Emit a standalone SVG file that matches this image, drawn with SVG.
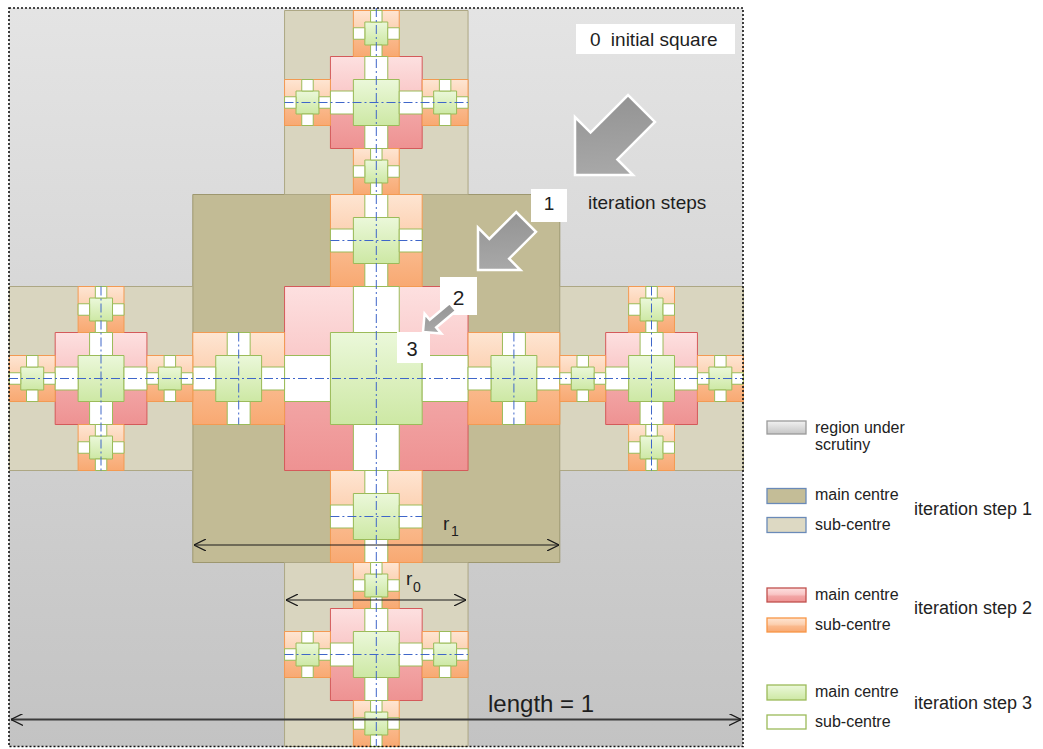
<svg xmlns="http://www.w3.org/2000/svg" width="1043" height="749" viewBox="0 0 1043 749">
<defs>
<style>
.k1,.k2,.p,.o,.g,.w{stroke-width:1;vector-effect:non-scaling-stroke}
.k1{fill:#c2bb95;stroke:#9d976f}
.k2{fill:#d9d5bf;stroke:#ada784}
.p{fill:url(#gp);stroke:#d45a5a}
.o{fill:url(#go);stroke:#f39a52}
.g{fill:url(#gg);stroke:#9bbb59}
.w{fill:#ffffff;stroke:#9bbb59}
.ax{fill:none;stroke:#3f66c9;stroke-width:1;stroke-dasharray:9 3 2 3}
.dim{fill:none;stroke:#1a1a1a;stroke-width:1.2}
.blk{fill:url(#ga);stroke:#ffffff;stroke-width:2.5;stroke-linejoin:miter}
.t{font-family:"Liberation Sans",Arial,sans-serif;fill:#1e1e1e}
.lg{font-family:"Liberation Sans",Arial,sans-serif;font-size:16px;fill:#222}
.li{font-family:"Liberation Sans",Arial,sans-serif;font-size:18px;fill:#222}
.sw{stroke-width:1.3}
</style>
<linearGradient id="gbg" x1="0" y1="0" x2="0" y2="1"><stop offset="0" stop-color="#e4e4e4"/><stop offset="1" stop-color="#c3c3c3"/></linearGradient>
<linearGradient id="gp" x1="0" y1="0" x2="0" y2="1"><stop offset="0" stop-color="#fde0e0"/><stop offset="0.45" stop-color="#f9c6c6"/><stop offset="0.6" stop-color="#f2a5a5"/><stop offset="1" stop-color="#ee9292"/></linearGradient>
<linearGradient id="go" x1="0" y1="0" x2="0" y2="1"><stop offset="0" stop-color="#fee5d2"/><stop offset="0.45" stop-color="#fcd0b0"/><stop offset="0.6" stop-color="#fab98c"/><stop offset="1" stop-color="#f8a972"/></linearGradient>
<linearGradient id="gg" x1="0" y1="0" x2="0" y2="1"><stop offset="0" stop-color="#ebf8da"/><stop offset="1" stop-color="#cde8a4"/></linearGradient>
<linearGradient id="gs" x1="0" y1="0" x2="0" y2="1"><stop offset="0" stop-color="#f2f2f2"/><stop offset="1" stop-color="#c4c4c4"/></linearGradient>
<linearGradient id="ga" x1="1" y1="0" x2="0" y2="1"><stop offset="0" stop-color="#b0b0b0"/><stop offset="1" stop-color="#8f8f8f"/></linearGradient>
<marker id="ch" viewBox="0 0 12 12" refX="12" refY="6" markerWidth="12" markerHeight="12" markerUnits="userSpaceOnUse" orient="auto-start-reverse">
<path d="M0,0 L12,6 L0,12" fill="none" stroke="#1a1a1a" stroke-width="1.2"/>
</marker>
<g id="s3">
<rect class="g" x="-0.25" y="-0.25" width="0.5" height="0.5"/>
<rect class="w" x="-0.125" y="-0.5" width="0.25" height="0.25"/>
<rect class="w" x="-0.125" y="0.25" width="0.25" height="0.25"/>
<rect class="w" x="-0.5" y="-0.125" width="0.25" height="0.25"/>
<rect class="w" x="0.25" y="-0.125" width="0.25" height="0.25"/>
</g>
<g id="s2">
<rect class="p" x="-0.25" y="-0.25" width="0.5" height="0.5"/>
<rect class="o" x="-0.125" y="-0.5" width="0.25" height="0.25"/>
<rect class="o" x="-0.125" y="0.25" width="0.25" height="0.25"/>
<rect class="o" x="-0.5" y="-0.125" width="0.25" height="0.25"/>
<rect class="o" x="0.25" y="-0.125" width="0.25" height="0.25"/>
<use href="#s3" transform="scale(0.5)"/>
<use href="#s3" transform="translate(0,-0.375) scale(0.25)"/>
<use href="#s3" transform="translate(0,0.375) scale(0.25)"/>
<use href="#s3" transform="translate(-0.375,0) scale(0.25)"/>
<use href="#s3" transform="translate(0.375,0) scale(0.25)"/>
</g>
<g id="s1">
<rect class="k1" x="-0.25" y="-0.25" width="0.5" height="0.5"/>
<rect class="k2" x="-0.125" y="-0.5" width="0.25" height="0.25"/>
<rect class="k2" x="-0.125" y="0.25" width="0.25" height="0.25"/>
<rect class="k2" x="-0.5" y="-0.125" width="0.25" height="0.25"/>
<rect class="k2" x="0.25" y="-0.125" width="0.25" height="0.25"/>
<use href="#s2" transform="scale(0.5)"/>
<use href="#s2" transform="translate(0,-0.375) scale(0.25)"/>
<use href="#s2" transform="translate(0,0.375) scale(0.25)"/>
<use href="#s2" transform="translate(-0.375,0) scale(0.25)"/>
<use href="#s2" transform="translate(0.375,0) scale(0.25)"/>
</g>
</defs>
<rect width="1043" height="749" fill="#ffffff"/>
<g id="initial-square">
<rect x="9" y="8" width="734" height="738.5" fill="url(#gbg)"/>
</g>
<g id="fractal">
<use href="#s1" transform="translate(376.3,378.5) scale(734,736)"/>
</g>
<g id="centre-lines">
<line class="ax" x1="9" y1="378.5" x2="743" y2="378.5"/>
<line class="ax" x1="376.3" y1="8" x2="376.3" y2="746"/>
<line class="ax" x1="330.4" y1="240.5" x2="422.2" y2="240.5"/>
<line class="ax" x1="330.4" y1="516.5" x2="422.2" y2="516.5"/>
<line class="ax" x1="238.7" y1="332.5" x2="238.7" y2="424.5"/>
<line class="ax" x1="513.9" y1="332.5" x2="513.9" y2="424.5"/>
<line class="ax" x1="284.5" y1="102.5" x2="468" y2="102.5"/>
<line class="ax" x1="284.5" y1="654.5" x2="468" y2="654.5"/>
<line class="ax" x1="101" y1="286.5" x2="101" y2="470.5"/>
<line class="ax" x1="651.5" y1="286.5" x2="651.5" y2="470.5"/>
</g>
<rect x="9" y="8" width="734" height="738.5" fill="none" stroke="#111" stroke-width="1.6" stroke-dasharray="2 2"/>
<g id="dimensions">
<line class="dim" x1="194" y1="545" x2="559" y2="545" marker-start="url(#ch)" marker-end="url(#ch)"/>
<text class="t" x="443" y="530" font-size="19">r</text><text class="t" x="451" y="536" font-size="14">1</text>
<line class="dim" x1="286" y1="600" x2="466" y2="600" marker-start="url(#ch)" marker-end="url(#ch)"/>
<text class="t" x="406" y="585" font-size="19">r</text><text class="t" x="413" y="592" font-size="14">0</text>
<line x1="11" y1="719.5" x2="741" y2="719.5" stroke="#3a3a3a" stroke-width="1.8" marker-start="url(#ch)" marker-end="url(#ch)"/>
<text class="t" x="488" y="712" font-size="24">length = 1</text>
</g>
<g id="label-0">
<rect x="576" y="24" width="159" height="30" fill="#ffffff"/>
<text class="t" x="590" y="46" font-size="19">0<tspan dx="5"> initial square</tspan></text>
</g>
<g id="arrow-big">
<path class="blk" d="M0,0 L-41,-41 L-41,-19 L-94,-19 L-94,19 L-41,19 L-41,41 Z" transform="translate(575,175) rotate(135)"/>
</g>
<g id="label-steps">
<text class="t" x="588" y="209" font-size="19">iteration steps</text>
</g>
<g id="label-1">
<rect x="531" y="189" width="36" height="33" fill="#ffffff"/>
<text class="t" x="549" y="210" font-size="19" text-anchor="middle">1</text>
</g>
<g id="arrow-medium">
<path class="blk" d="M0,0 L-30,-30 L-30,-14 L-68,-14 L-68,14 L-30,14 L-30,30 Z" transform="translate(478,270) rotate(135)"/>
</g>
<g id="label-2">
<rect x="440" y="277" width="37" height="38" fill="#ffffff"/>
<text class="t" x="458.5" y="305" font-size="21" text-anchor="middle">2</text>
</g>
<g id="arrow-small">
<path class="blk" d="M0,0 L-13,-13 L-13,-5 L-39,-5 L-39,5 L-13,5 L-13,13 Z" transform="translate(423,332) rotate(140)"/>
</g>
<g id="label-3">
<rect x="397" y="332" width="33" height="31" fill="#ffffff"/>
<text class="t" x="412" y="356" font-size="20" text-anchor="middle">3</text>
</g>
<g id="legend">
<g id="lg-region"><rect class="sw" x="767" y="421" width="39" height="13" fill="url(#gs)" stroke="#9a9a9a"/><text class="lg" x="815" y="433">region under</text><text class="lg" x="815" y="450">scrutiny</text></g>
<g id="lg-1main"><rect class="sw" x="767" y="488.5" width="39" height="15" fill="#c4bd97" stroke="#6a8ab8"/><text class="lg" x="815" y="500">main centre</text></g>
<g id="lg-1sub"><rect class="sw" x="767" y="517.5" width="39" height="15" fill="#ddd9c3" stroke="#6a8ab8"/><text class="lg" x="815" y="530">sub-centre</text></g>
<text class="li" x="914" y="515">iteration step 1</text>
<g id="lg-2main"><rect class="sw" x="767" y="588" width="39" height="14" fill="url(#gp)" stroke="#c0504d"/><text class="lg" x="815" y="600">main centre</text></g>
<g id="lg-2sub"><rect class="sw" x="767" y="618" width="39" height="14" fill="url(#go)" stroke="#f79646"/><text class="lg" x="815" y="630">sub-centre</text></g>
<text class="li" x="914" y="614">iteration step 2</text>
<g id="lg-3main"><rect class="sw" x="767" y="685" width="39" height="15" fill="url(#gg)" stroke="#9bbb59"/><text class="lg" x="815" y="697">main centre</text></g>
<g id="lg-3sub"><rect class="sw" x="767" y="715" width="39" height="14" fill="#ffffff" stroke="#9bbb59"/><text class="lg" x="815" y="727">sub-centre</text></g>
<text class="li" x="914" y="709">iteration step 3</text>
</g>
</svg>
